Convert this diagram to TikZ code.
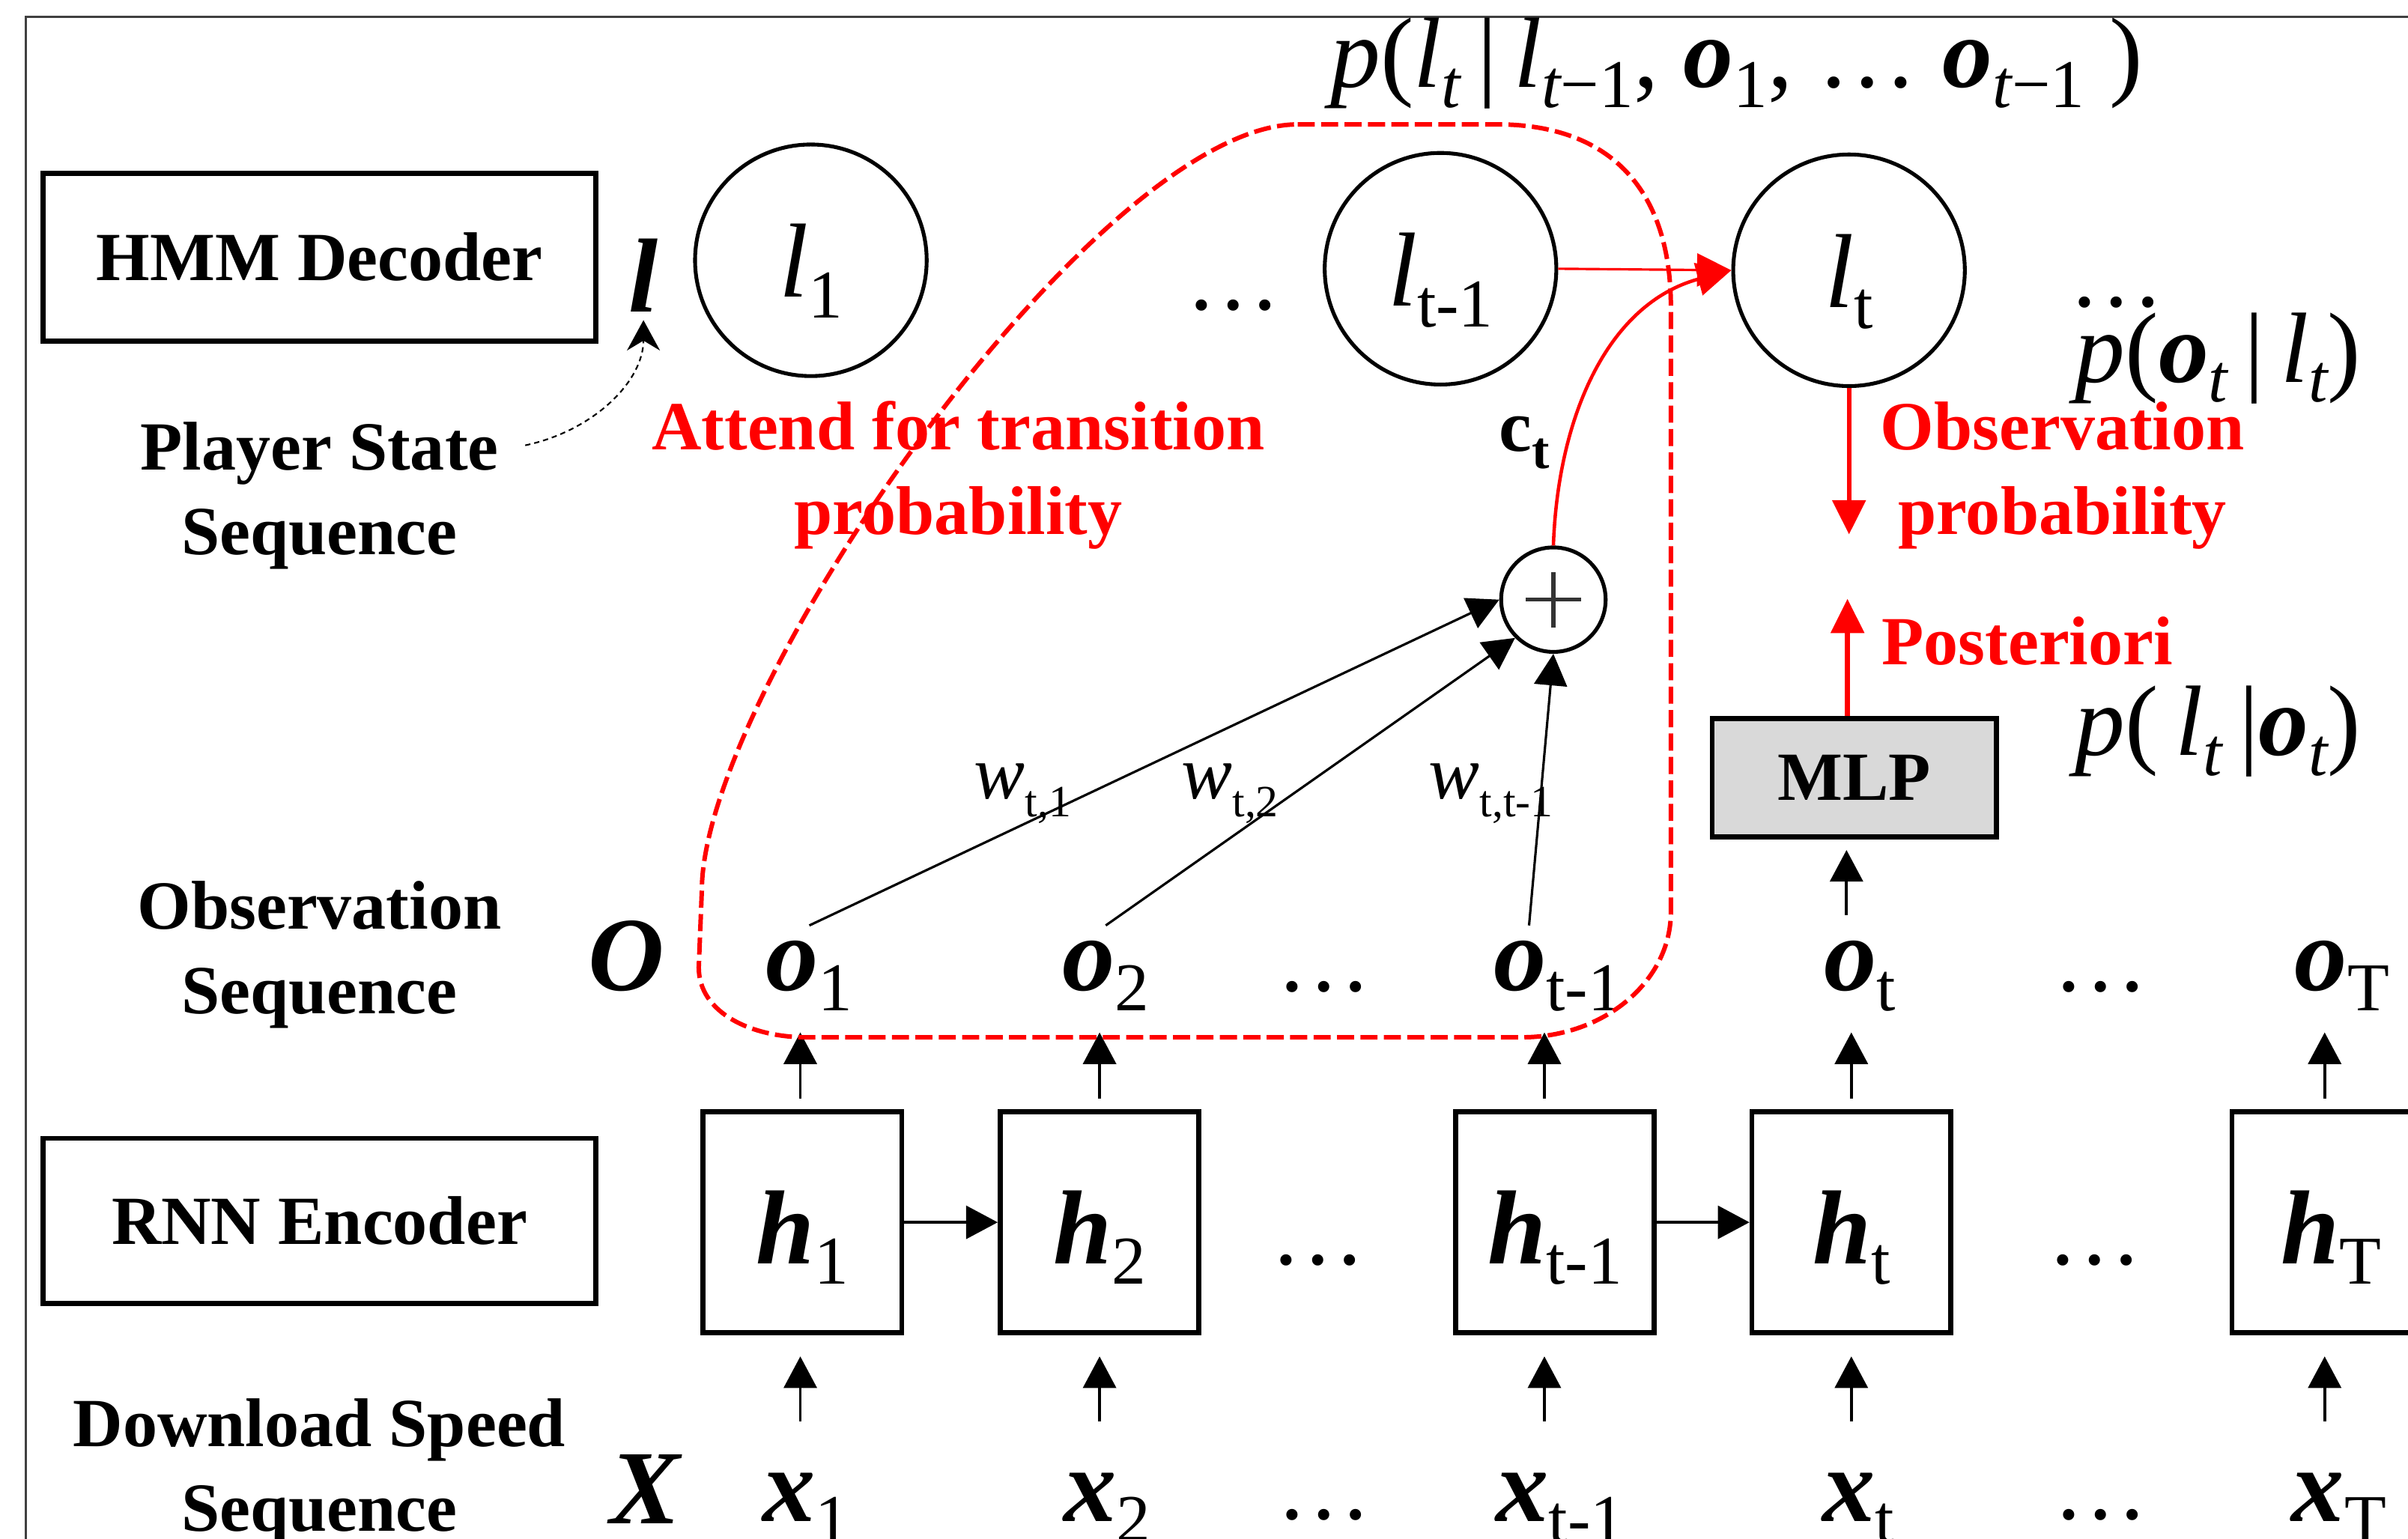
\documentclass[tikz,border=0pt]{standalone}
\usepackage{fontspec}
\setmainfont{Liberation Serif}
\usetikzlibrary{arrows.meta,calc}
\definecolor{pured}{RGB}{255,0,0}
\definecolor{mlpgray}{RGB}{217,217,217}
\newcommand{\lab}{\fontsize{26.2}{32.1}\selectfont\bfseries}
\newcommand{\bbi}{\fontsize{40}{40}\selectfont\bfseries\itshape}
\newcommand{\bsym}[2]{{\bbi #1}\raisebox{-7.8pt}{\fontsize{26}{26}\selectfont #2}}
\newcommand{\lsym}[1]{{\fontsize{40}{40}\selectfont\itshape l}\raisebox{-8pt}{\fontsize{26}{26}\selectfont #1}}
\newcommand{\wsym}[1]{{\fontsize{29}{29}\selectfont\itshape w}\raisebox{-7pt}{\fontsize{17}{17}\selectfont #1}}
\newcommand{\dotsf}{\fontsize{36}{36}\selectfont}
\newcommand{\fsub}[1]{\raisebox{-7.5pt}{\fontsize{26}{26}\selectfont #1}}
\newcommand{\fit}[1]{{\itshape #1}}
\newcommand{\fbo}{{\bfseries\itshape o}}
\begin{document}
\begin{tikzpicture}[x=0.020504cm,y=0.020504cm,
  lbl/.style={font=\lab,align=center,inner sep=0pt},
  rlbl/.style={lbl,text=pured},
  titlebox/.style={draw,line width=1.9pt,minimum width=210pt,inner sep=0pt,font=\lab},
  seqbox/.style={draw,line width=1.9pt,minimum width=75.5pt,minimum height=84pt,inner sep=0pt,text height=39.5pt,text depth=8pt},
  state/.style={draw,circle,line width=1.45pt,minimum size=88pt,inner sep=0pt,text height=36pt,text depth=8pt},
  oseq/.style={anchor=base,inner sep=0pt,text height=24.5pt,text depth=15.75pt},
  xseq/.style={anchor=base,inner sep=0pt,text height=37.9pt,text depth=8pt},
  dotsnode/.style={anchor=base,inner sep=0pt,font=\dotsf},
  bignode/.style={anchor=base,inner sep=0pt,font=\bbi},
  arr/.style={line width=1.1pt,-{Triangle[length=12pt,width=12.5pt]}},
  thinarr/.style={line width=0.9pt,-{Triangle[length=12pt,width=12.5pt]}},
  redarr/.style={color=pured,line width=1.8pt,-{Triangle[length=13pt,width=12.5pt]}},
  formula/.style={anchor=base west,inner sep=0pt,font=\fontsize{38}{44}\selectfont}]
\useasboundingbox (0,0) rectangle (1568,-1002.2);
\clip (0,0) rectangle (1568,-1002.2);
% frame
\draw[line width=0.8pt,black!75] (17,-1100) -- (17,-11) -- (1700,-11);

% left labels (base anchor = baseline of the last line)
\node[titlebox,minimum height=63.6pt] (hmm) at (208,-167.5) {HMM Decoder};
\node[titlebox,minimum height=62.7pt] (rnn) at (208,-795) {RNN Encoder};
\node[lbl,anchor=base] (pss) at (208,-361) {Player State\\Sequence};
\node[lbl,anchor=base] (obs) at (208,-660) {Observation\\Sequence};
\node[lbl,anchor=base] (dss) at (208,-997) {Download Speed\\Sequence};

\node[bignode] (Lbig) at (419,-203) {l};
\node[bignode] (Obig) at (408,-645) {O};
\node[bignode] (Xbig) at (420,-992) {X};

% states
\node[state] (l1) at (528,-169.5) {\lsym{1}};
\node[state] (lt1) at (938,-175) {\lsym{t-1}};
\node[state] (lt) at (1204,-176) {\lsym{t}};
\node[dotsnode] (dl1) at (803,-201.5) {…};
\node[dotsnode] (dl2) at (1378,-199.5) {…};

% observations
\node[oseq] (o1) at (527,-645) {\bsym{o}{1}};
\node[oseq] (o2) at (720,-645) {\bsym{o}{2}};
\node[oseq] (ot1) at (1014.5,-645) {\bsym{o}{t-1}};
\node[oseq] (ot) at (1211,-645) {\bsym{o}{t}};
\node[oseq] (oT) at (1525,-645) {\bsym{o}{T}};
\node[dotsnode] (do1) at (862,-645.5) {…};
\node[dotsnode] (do2) at (1368,-645.5) {…};

% hidden boxes
\node[seqbox] (h1) at (522.5,-796) {\bsym{h}{1}};
\node[seqbox] (h2) at (716,-796) {\bsym{h}{2}};
\node[seqbox] (ht1) at (1012.5,-796) {\bsym{h}{t-1}};
\node[seqbox] (ht) at (1205.5,-796) {\bsym{h}{t}};
\node[seqbox] (hT) at (1518,-796) {\bsym{h}{T}};
\node[dotsnode] (dh1) at (858,-823.5) {…};
\node[dotsnode] (dh2) at (1364,-823.5) {…};

% inputs
\node[xseq] (x1) at (525,-991) {\bsym{x}{1}};
\node[xseq] (x2) at (721,-991) {\bsym{x}{2}};
\node[xseq] (xt1) at (1016,-991) {\bsym{x}{t-1}};
\node[xseq] (xt) at (1210,-991) {\bsym{x}{t}};
\node[xseq] (xT) at (1523,-991) {\bsym{x}{T}};
\node[dotsnode] (dx1) at (862,-989.5) {…};
\node[dotsnode] (dx2) at (1368,-989.5) {…};

% arrows h -> o, x -> h
\foreach \h/\o/\x/\dx in {h1/o1/x1/-0.8pt,h2/o2/x2/0pt,ht1/ot1/xt1/-4pt,ht/ot/xt/0pt,hT/oT/xT/-2.5pt}{
  \draw[arr,shorten <=4pt] ([xshift=\dx]\h.north) -- ([xshift=\dx]\h.north |- \o.south);
  \draw[arr,shorten >=8pt] ([xshift=\dx]\h.south |- \x.north) -- ([xshift=\dx]\h.south);
}
\draw[arr] (h1.east) -- (h2.west);
\draw[arr] (ht1.east) -- (ht.west);

% MLP
\node[draw,line width=1.9pt,fill=mlpgray,minimum width=108pt,minimum height=45pt,inner sep=0pt,font=\lab] (mlp) at (1207.5,-506.5) {MLP};
\draw[arr,shorten <=4pt,shorten >=4pt] ([xshift=-3pt]mlp.south |- ot.north) -- ([xshift=-3pt]mlp.south);

% plus
\node[draw,circle,line width=1.45pt,minimum size=39.7pt,inner sep=0pt] (plus) at (1011.5,-390.5) {};
\draw[line width=1.5pt,black!80] ([xshift=-10.5pt]plus.center) -- ([xshift=10.5pt]plus.center);
\draw[line width=1.5pt,black!80] ([yshift=-10.5pt]plus.center) -- ([yshift=10.5pt]plus.center);
\draw[thinarr] (o1.north) -- (plus.west);
\draw[thinarr] (o2.north) -- (plus.south west);
\draw[thinarr] ([xshift=-11pt]ot1.north) -- (plus.south);
\node[anchor=base west,inner sep=0pt] (w1) at (634,-520) {\wsym{t,1}};
\node[anchor=base west,inner sep=0pt] (w2) at (769,-520) {\wsym{t,2}};
\node[anchor=base west,inner sep=0pt] (w3) at (930,-520) {\wsym{t,t-1}};
\node[anchor=base west,inner sep=0pt] (ct) at (976,-293.6) {{\fontsize{28}{28}\selectfont\bfseries c}\raisebox{-6.6pt}{\fontsize{20}{20}\selectfont\bfseries t}};

% red labels
\node[rlbl,anchor=base] (att) at (624,-348) {Attend for transition\\probability};
\node[rlbl,anchor=base] (obsp) at (1343,-348) {Observation\\probability};
\node[rlbl,anchor=base west] (post) at (1225,-433) {Posteriori};

% red arrows
\draw[redarr,line width=0.9pt] (lt1.east) -- (lt.west);
\draw[redarr,line width=1.3pt] (plus.north) to[out=88,in=195] (lt.west);
\coordinate (obsend) at (1204,-348);
\draw[redarr] (lt.south) -- (obsend);
\coordinate (postend) at (1203,-390);
\draw[redarr] (postend |- mlp.north) -- (postend);

% red dashed region
\draw[pured,line width=1.7pt,dash pattern=on 6.5pt off 2.4pt]
  (845,-81) -- (975,-81) .. controls (1045,-81) and (1088,-120) .. (1088,-200)
  -- (1088,-594) .. controls (1088,-639) and (1044.5,-675.5) .. (991,-675.5)
  -- (525,-675.5) .. controls (490,-675.5) and (455,-660) .. (455,-630)
  -- (457,-580) .. controls (457,-450) and (715,-81) .. (845,-81);

% player state pointer
\coordinate (psend) at (342,-290);
\draw[line width=0.6pt,dash pattern=on 2pt off 1.5pt,shorten >=3pt,-{Stealth[length=11.5pt,width=12.5pt]}] (psend) to[out=12,in=-90] (Lbig.south);

% formulas
\node[formula] (f1) at (866,-57) {\fit{p}(\fit{l}\fsub{\fit{t}}\,|\,\fit{l}\fsub{\fit{t}−1}, \fbo\fsub{1}, … \fbo\fsub{\fit{t}−1}~)};
\node[formula] (f2) at (1351,-249) {\fit{p}(\fbo\fsub{\fit{t}}\,|\,\fit{l}\fsub{\fit{t}})};
\node[formula] (f3) at (1351,-492) {\fit{p}(\,\fit{l}\fsub{\fit{t}}\,|\fbo\fsub{\fit{t}})};
\end{tikzpicture}
\end{document}
